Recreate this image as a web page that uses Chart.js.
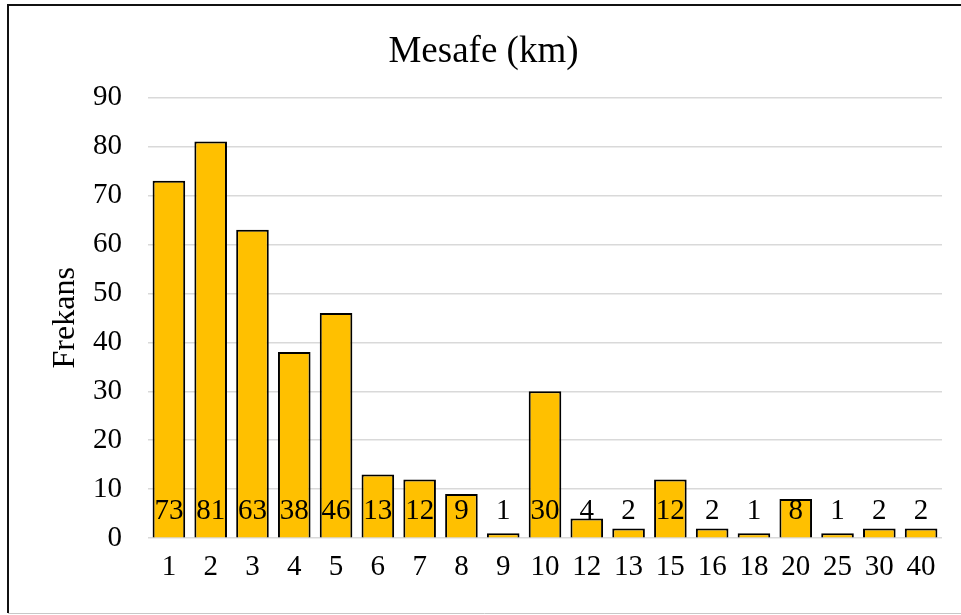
<!DOCTYPE html>
<html>
<head>
<meta charset="utf-8">
<script src="https://cdn.jsdelivr.net/npm/chart.js@4/dist/chart.umd.min.js"></script>
<style>
  html, body { margin: 0; padding: 0; background: #fff; }
  #wrap { position: relative; width: 961px; height: 615px; }
</style>
</head>
<body>
<div id="wrap"><canvas id="c" width="961" height="615"></canvas></div>
<script>
// Distance classes (km) and how often each occurs
const categories = ['1','2','3','4','5','6','7','8','9','10','12','13','15','16','18','20','25','30','40'];
const frequencies = [73, 81, 63, 38, 46, 13, 12, 9, 1, 30, 4, 2, 12, 2, 1, 8, 1, 2, 2];
const yTicks = [0, 10, 20, 30, 40, 50, 60, 70, 80, 90];

const SERIF = '"Liberation Serif", "Times New Roman", serif';

// Frame lines around the figure
const framePlugin = {
  id: 'frame',
  beforeDraw(chart) {
    const ctx = chart.ctx;
    ctx.save();
    ctx.fillStyle = '#fff';
    ctx.fillRect(0, 0, chart.width, chart.height);
    ctx.strokeStyle = '#111';
    ctx.lineWidth = 2;
    ctx.beginPath();
    ctx.moveTo(8, 613);
    ctx.lineTo(8, 5);
    ctx.lineTo(chart.width, 5);
    ctx.stroke();
    ctx.strokeStyle = '#c8c8c8';
    ctx.lineWidth = 1;
    ctx.beginPath();
    ctx.moveTo(8, 613.5);
    ctx.lineTo(chart.width, 613.5);
    ctx.stroke();
    ctx.restore();
  }
};

// Value labels placed near the base of each bar
const baseLabels = {
  id: 'baseLabels',
  afterDatasetsDraw(chart) {
    const ctx = chart.ctx;
    const meta = chart.getDatasetMeta(0);
    const y0 = chart.scales.y.getPixelForValue(0);
    ctx.save();
    ctx.font = '29px ' + SERIF;
    ctx.fillStyle = '#000';
    ctx.textAlign = 'center';
    ctx.textBaseline = 'middle';
    meta.data.forEach((bar, i) => {
      ctx.fillText(String(frequencies[i]), bar.x, y0 - 27);
    });
    ctx.restore();
  }
};

new Chart(document.getElementById('c'), {
  type: 'bar',
  data: {
    labels: categories,
    datasets: [{
      data: frequencies,
      backgroundColor: '#FFC000',
      borderColor: '#000',
      borderWidth: 2,
      barPercentage: 0.78,
      categoryPercentage: 1.0
    }]
  },
  options: {
    responsive: false,
    animation: false,
    layout: { padding: { top: 10, left: 25, right: 19, bottom: 18 } },
    plugins: {
      legend: { display: false },
      tooltip: { enabled: false },
      title: {
        display: true,
        text: 'Mesafe (km)',
        color: '#000',
        font: { family: SERIF, size: 37, weight: 'normal' },
        padding: { top: 20, bottom: 23 }
      }
    },
    scales: {
      x: {
        grid: { display: false, drawTicks: false },
        border: { display: false },
        ticks: {
          color: '#000',
          font: { family: SERIF, size: 29 },
          padding: 12,
          maxRotation: 0,
          autoSkip: false
        }
      },
      y: {
        min: 0,
        max: 90,
        afterBuildTicks(scale) {
          scale.ticks = yTicks.map(v => ({ value: v }));
        },
        afterFit(scale) {
          scale.width = 123;
        },
        grid: { color: '#d9d9d9', lineWidth: 1.5, drawTicks: false },
        border: { display: false },
        title: {
          display: true,
          text: 'Frekans',
          color: '#000',
          font: { family: SERIF, size: 32 },
          padding: { top: 21, bottom: 0 }
        },
        ticks: {
          color: '#000',
          font: { family: SERIF, size: 29 },
          padding: 26
        }
      }
    }
  },
  plugins: [framePlugin, baseLabels]
});
</script>
</body>
</html>
